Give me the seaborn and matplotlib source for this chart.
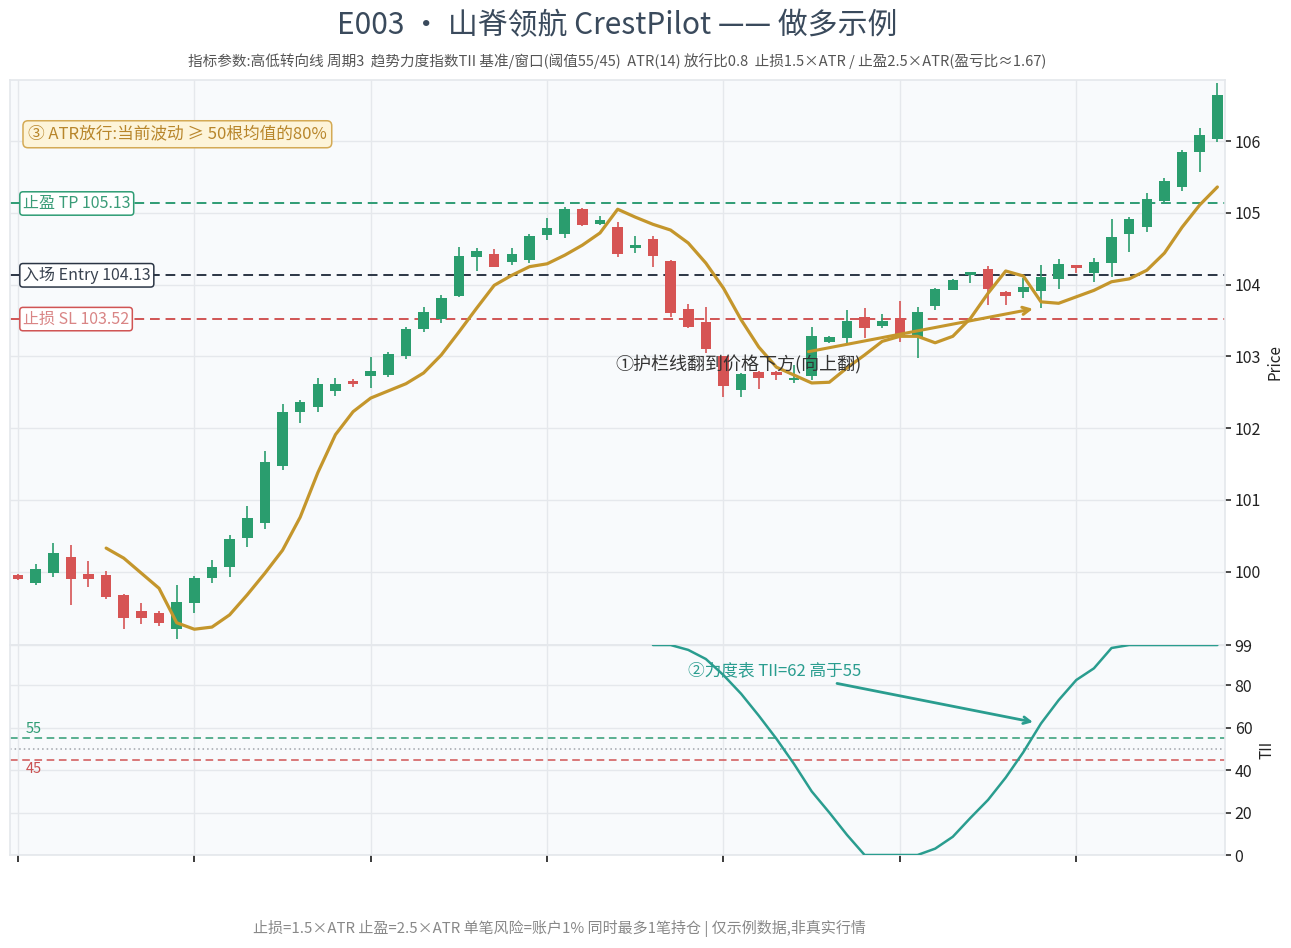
import matplotlib
matplotlib.use("Agg")
import matplotlib.pyplot as plt
import matplotlib.transforms as mtransforms
import numpy as np
import pandas as pd
import seaborn as sns

# ---- data ----
opens = [99.95, 99.85, 99.99, 100.21, 99.97, 99.96, 99.67, 99.46, 99.42, 99.21,
         99.57, 99.92, 100.07, 100.47, 100.68, 101.47, 102.22, 102.29, 102.52, 102.66,
         102.73, 102.74, 103.00, 103.38, 103.52, 103.84, 104.39, 104.43, 104.31, 104.34,
         104.69, 104.70, 105.05, 104.84, 104.80, 104.51, 104.63, 104.33, 103.66, 103.48,
         103.00, 102.53, 102.78, 102.78, 102.67, 102.73, 103.20, 103.26, 103.55, 103.42,
         103.53, 103.27, 103.70, 103.93, 104.13, 104.22, 103.90, 103.90, 103.91, 104.08,
         104.27, 104.16, 104.30, 104.70, 104.80, 105.16, 105.36, 105.85, 106.03]
highs = [99.97, 100.11, 100.40, 100.38, 100.15, 100.01, 99.69, 99.57, 99.45, 99.82,
         99.94, 100.17, 100.51, 100.92, 101.68, 102.34, 102.39, 102.70, 102.70, 102.68,
         102.99, 103.06, 103.41, 103.69, 103.86, 104.52, 104.51, 104.50, 104.51, 104.70,
         104.93, 105.08, 105.07, 104.96, 104.87, 104.68, 104.68, 104.34, 103.73, 103.69,
         103.01, 102.77, 102.80, 102.79, 102.88, 103.41, 103.29, 103.65, 103.67, 103.59,
         103.77, 103.69, 103.95, 104.08, 104.18, 104.26, 103.91, 104.09, 104.27, 104.36,
         104.28, 104.37, 104.91, 104.94, 105.28, 105.48, 105.87, 106.18, 106.81]
lows = [99.88, 99.82, 99.93, 99.54, 99.79, 99.62, 99.21, 99.27, 99.25, 99.06,
        99.42, 99.85, 99.93, 100.35, 100.60, 101.42, 102.07, 102.22, 102.45, 102.57,
        102.56, 102.71, 102.97, 103.34, 103.47, 103.83, 104.19, 104.24, 104.27, 104.30,
        104.62, 104.65, 104.82, 104.83, 104.38, 104.44, 104.25, 103.55, 103.40, 103.05,
        102.43, 102.43, 102.55, 102.67, 102.63, 102.67, 103.19, 103.19, 103.26, 103.40,
        103.20, 102.98, 103.65, 103.92, 104.02, 103.72, 103.72, 103.81, 103.67, 103.94,
        104.16, 104.04, 104.11, 104.45, 104.73, 105.15, 105.30, 105.57, 105.99]
closes = [99.90, 100.04, 100.26, 99.90, 99.90, 99.65, 99.36, 99.35, 99.29, 99.58,
          99.92, 100.07, 100.46, 100.75, 101.53, 102.22, 102.36, 102.62, 102.62, 102.62,
          102.79, 103.03, 103.38, 103.62, 103.81, 104.40, 104.47, 104.25, 104.43, 104.68,
          104.79, 105.05, 104.83, 104.90, 104.43, 104.55, 104.40, 103.60, 103.41, 103.10,
          102.59, 102.75, 102.70, 102.74, 102.70, 103.28, 103.27, 103.49, 103.40, 103.49,
          103.30, 103.62, 103.94, 104.06, 104.18, 103.94, 103.84, 103.97, 104.11, 104.29,
          104.23, 104.31, 104.66, 104.91, 105.19, 105.44, 105.85, 106.08, 106.64]

# guardrail (high/low turn line), starts at bar 5
guardrail = [np.nan] * 5 + [
    100.33, 100.19, 99.98, 99.77, 99.29, 99.20, 99.23, 99.40, 99.68, 99.98,
    100.30, 100.76, 101.38, 101.91, 102.23, 102.42, 102.52, 102.62, 102.77, 103.02,
    103.34, 103.67, 103.99, 104.13, 104.25, 104.29, 104.41, 104.55, 104.72, 105.05,
    104.94, 104.84, 104.76, 104.58, 104.30, 103.95, 103.51, 103.13, 102.85, 102.74,
    102.63, 102.64, 102.84, 103.02, 103.21, 103.28, 103.28, 103.19, 103.28, 103.53,
    103.88, 104.19, 104.12, 103.76, 103.74, 103.83, 103.92, 104.04, 104.08, 104.20,
    104.44, 104.80, 105.11, 105.36]

# trend intensity index, starts at bar 36
tii = [np.nan] * 36 + [
    99, 99, 96.7, 92.4, 84.8, 76, 65.7, 54.8, 42.9, 30,
    20, 9.5, 0, 0, 0, 0, 3, 8.6, 17.5, 26,
    36.5, 48.5, 62, 73, 82.5, 88, 97.6, 99, 99, 99,
    99, 99, 99]

tp_price = 105.13
entry_price = 104.13
sl_price = 103.52
tii_upper = 55
tii_lower = 45
tii_mid = 50
price_ticks = [100, 101, 102, 103, 104, 105, 106]
tii_ticks = [0, 20, 40, 60, 80, 99]

df = pd.DataFrame({"open": opens, "high": highs, "low": lows, "close": closes,
                   "guard": guardrail, "tii": tii})
df["bar"] = np.arange(len(df))

# ---- style ----
GREEN = "#2a9d6e"
RED = "#d65454"
GOLD = "#c4962c"
TEAL = "#2a9d8f"
DARK = "#2b3545"
GRID = "#e5e8ec"

sns.set_theme(style="whitegrid", rc={"axes.facecolor": "#f8fafc",
                                     "grid.color": GRID, "axes.edgecolor": GRID})
plt.rcParams["font.family"] = ["Noto Sans CJK SC", "DejaVu Sans"]
plt.rcParams["axes.unicode_minus"] = False

fig = plt.figure(figsize=(12.91, 9.48), dpi=100)
ax = fig.add_axes([0.00775, 0.3196, 0.9411, 0.5960])
ax2 = fig.add_axes([0.00775, 0.0981, 0.9411, 0.2215], sharex=ax)

# ---- candles ----
up = df["close"] >= df["open"]
colors = np.where(up, GREEN, RED)
ax.vlines(df["bar"], df["low"], df["high"], colors=colors, lw=1.2, zorder=2)
body = (df["close"] - df["open"]).abs().clip(lower=0.02)
ax.bar(df["bar"], body, bottom=df[["open", "close"]].min(axis=1),
       width=0.6, color=colors, linewidth=0, zorder=3)

sns.lineplot(data=df, x="bar", y="guard", ax=ax, color=GOLD, lw=2.3, zorder=4)

# levels
lvl_tr = mtransforms.blended_transform_factory(ax.transAxes, ax.transData)
for val, lc, tc, txt in [(tp_price, "#2e9c74", "#3a9c78", "止盈 TP 105.13"),
                         (entry_price, DARK, "#3a4350", "入场 Entry 104.13"),
                         (sl_price, "#d05454", "#d98585", "止损 SL 103.52")]:
    ax.axhline(val, color=lc, ls=(0, (5, 3)), lw=1.4, zorder=1.5)
    ax.text(0.0107, val, txt, transform=lvl_tr, ha="left", va="center",
            fontsize=11.5, color=tc, zorder=6,
            bbox=dict(boxstyle="round,pad=0.2", fc="white", ec=lc, lw=1.1))

ax.text(0.0148, 0.904, "③ ATR放行:当前波动 ≥ 50根均值的80%", transform=ax.transAxes,
        ha="left", va="center", fontsize=12, color="#b8862b", zorder=6,
        bbox=dict(boxstyle="round,pad=0.3", fc="#fdf4d9", ec="#d4aa55", lw=1.1))

ax.annotate("①护栏线翻到价格下方(向上翻)", xy=(57.7, 103.67), xytext=(40.85, 102.88),
            ha="center", va="center", fontsize=13, color="#333333", zorder=6,
            arrowprops=dict(arrowstyle="->", color=GOLD, lw=2.2))

ax.set_xlim(-0.45, 68.43)
ax.set_ylim(98.98, 106.85)
ax.set_yticks(price_ticks)
ax.yaxis.tick_right()
ax.yaxis.set_label_position("right")
ax.set_ylabel("Price", fontsize=11, color="#222")
ax.set_xlabel("")
ax.tick_params(axis="y", right=True, length=4, color="#333", labelsize=11.5,
               labelcolor="#222", pad=3)
ax.tick_params(axis="x", bottom=False, labelbottom=False)
ax.set_xticks(range(0, 69, 10))

# ---- TII panel ----
sns.lineplot(data=df, x="bar", y="tii", ax=ax2, color=TEAL, lw=1.8, zorder=4)
ax2.axhline(tii_upper, color="#2e9c74", ls=(0, (5, 3)), lw=1.1)
ax2.axhline(tii_lower, color="#d05454", ls=(0, (5, 3)), lw=1.1)
ax2.axhline(tii_mid, color="#a0a4ab", ls=(0, (1, 2)), lw=1.1)
ax2.text(0.45, tii_upper + 1.2, "55", ha="left", va="bottom", fontsize=10.5, color="#2e9c74")
ax2.text(0.45, tii_lower - 1.2, "45", ha="left", va="top", fontsize=10.5, color="#c95050")
ax2.annotate("②力度表 TII=62 高于55", xy=(57.7, 62.4), xytext=(42.9, 86.7),
             ha="center", va="center", fontsize=12, color=TEAL, zorder=6,
             arrowprops=dict(arrowstyle="->", color=TEAL, lw=2))

ax2.set_ylim(0, 99)
ax2.set_yticks(tii_ticks)
ax2.yaxis.tick_right()
ax2.yaxis.set_label_position("right")
ax2.set_ylabel("TII", fontsize=11, color="#222")
ax2.set_xlabel("")
ax2.set_xticks(range(0, 69, 10))
ax2.set_xticklabels([])
ax2.tick_params(axis="y", right=True, length=4, color="#333", labelsize=11.5,
                labelcolor="#222", pad=3)
ax2.tick_params(axis="x", bottom=True, length=5, color="#222")

# ---- titles ----
fig.text(0.478, 0.9732, "E003 · 山脊领航 CrestPilot —— 做多示例", ha="center", va="center",
         fontsize=21.5, color="#3a4a5c")
fig.text(0.478, 0.9357,
         "指标参数:高低转向线 周期3  趋势力度指数TII 基准/窗口(阈值55/45)  ATR(14) 放行比0.8  "
         "止损1.5×ATR / 止盈2.5×ATR(盈亏比≈1.67)",
         ha="center", va="center", fontsize=10.5, color="#555")
fig.text(0.433, 0.0211, "止损=1.5×ATR 止盈=2.5×ATR 单笔风险=账户1% 同时最多1笔持仓 | 仅示例数据,非真实行情",
         ha="center", va="center", fontsize=10.8, color="#888")

fig.savefig("out.png", dpi=100)
